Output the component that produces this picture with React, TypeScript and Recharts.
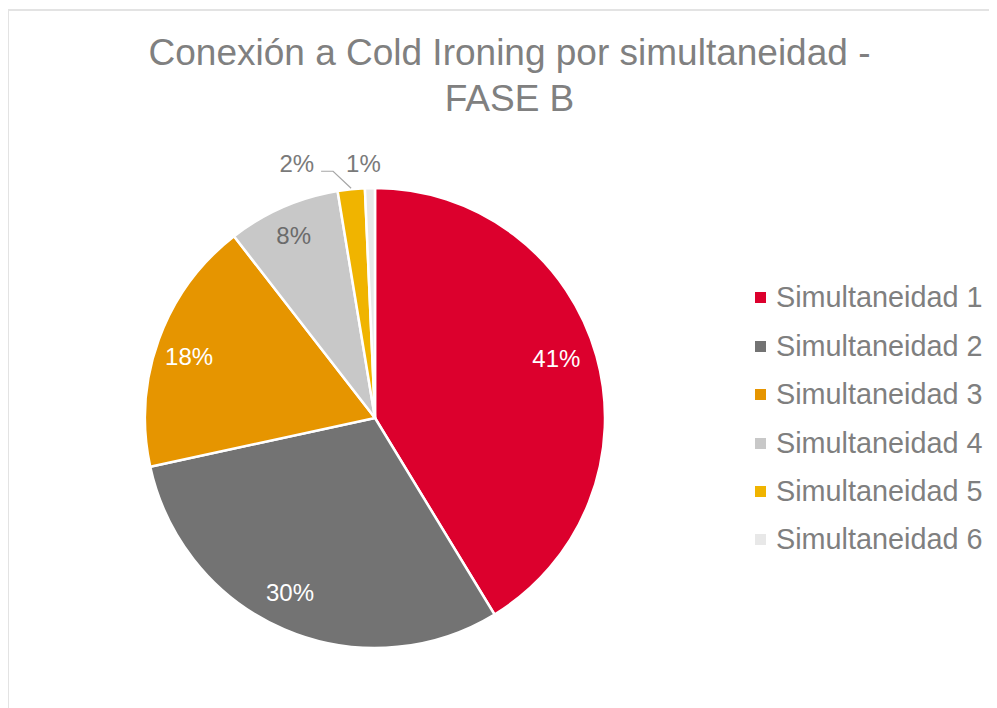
import React from 'react';
import { PieChart, Pie, Cell, Legend } from 'recharts';

// Data
const categories = [
  'Simultaneidad 1',
  'Simultaneidad 2',
  'Simultaneidad 3',
  'Simultaneidad 4',
  'Simultaneidad 5',
  'Simultaneidad 6',
];
const shares = [41.3, 30.3, 17.9, 7.9, 1.9, 0.7];
const COLORS = ['#DC002D', '#737373', '#E69500', '#C8C8C8', '#F0B400', '#E8E8E8'];

const titleLines = ['Conexión a Cold Ironing por simultaneidad -', 'FASE B'];

const data = categories.map((name, i) => ({ name, value: shares[i] }));

const FONT = '"Liberation Sans", Arial, sans-serif';
const RADIAN = Math.PI / 180;

// Excel's "best fit" puts the inner labels a little off the slice middle
const labelShift = [2.5, -2.8, 1.7, 0.4];
const labelRadius = [0.83, 0.842, 0.851, 0.87];

const renderLabel = (props: any) => {
  const { cx, cy, midAngle, outerRadius, percent, index } = props;
  const text = `${Math.round(percent * 100)}%`;

  if (index < 4) {
    const a = -(midAngle + labelShift[index]) * RADIAN;
    const r = outerRadius * labelRadius[index];
    return (
      <text
        x={cx + r * Math.cos(a)}
        y={cy + r * Math.sin(a)}
        fill={index === 3 ? '#6b6b6b' : '#ffffff'}
        textAnchor="middle"
        dominantBaseline="central"
        fontSize={24}
        fontFamily={FONT}
      >
        {text}
      </text>
    );
  }

  // small slices: labels outside the pie
  const cos = Math.cos(-midAngle * RADIAN);
  const sin = Math.sin(-midAngle * RADIAN);
  const ex = cx + (outerRadius + 1) * cos;
  const ey = cy + (outerRadius + 1) * sin;
  if (index === 4) {
    return (
      <g>
        <polyline
          points={`${ex},${ey} ${ex - 18},${ey - 17} ${ex - 30},${ey - 17}`}
          fill="none"
          stroke="#A6A6A6"
          strokeWidth={1.2}
        />
        <text
          x={ex - 37}
          y={ey - 25}
          fill="#7a7a7a"
          textAnchor="end"
          dominantBaseline="central"
          fontSize={24}
          fontFamily={FONT}
        >
          {text}
        </text>
      </g>
    );
  }
  const r = outerRadius + 25;
  return (
    <text
      x={cx + r * cos - 6}
      y={cy + r * sin}
      fill="#7a7a7a"
      textAnchor="middle"
      dominantBaseline="central"
      fontSize={24}
      fontFamily={FONT}
    >
      {text}
    </text>
  );
};

const renderLegend = () => (
  <div style={{ fontFamily: FONT }}>
    {categories.map((name, i) => (
      <div key={name} style={{ display: 'flex', alignItems: 'center', height: 48.4 }}>
        <span
          style={{
            display: 'inline-block',
            width: 11,
            height: 11,
            background: COLORS[i],
            marginRight: 10,
          }}
        />
        <span style={{ fontSize: 28.8, color: '#7f7f7f', whiteSpace: 'nowrap' }}>{name}</span>
      </div>
    ))}
  </div>
);

export default function App() {
  return (
    <div style={{ position: 'relative', width: 997, height: 716, margin: -8, overflow: 'hidden', background: '#fff' }}>
      {/* chart area border */}
      <div
        style={{
          position: 'absolute',
          left: 7,
          top: 9,
          width: 1100,
          height: 900,
          border: '2px solid #E3E3E3',
        }}
      />
      <div
        style={{
          position: 'absolute',
          left: 0,
          top: 29.8,
          width: 1019,
          textAlign: 'center',
          fontFamily: FONT,
          fontSize: 37,
          lineHeight: '46px',
          color: '#808080',
        }}
      >
        {titleLines.map((t) => (
          <div key={t}>{t}</div>
        ))}
      </div>
      <div style={{ position: 'absolute', left: 0, top: 0 }}>
        <PieChart width={997} height={708} margin={{ top: 0, right: 0, bottom: 0, left: 0 }}>
          <Pie
            data={data}
            dataKey="value"
            nameKey="name"
            cx={375}
            cy={418}
            outerRadius={230}
            startAngle={90}
            endAngle={-270}
            stroke="#ffffff"
            strokeWidth={2.5}
            label={renderLabel}
            labelLine={false}
            isAnimationActive={false}
          >
            {data.map((entry, index) => (
              <Cell key={`cell-${index}`} fill={COLORS[index]} />
            ))}
          </Pie>
          <Legend
            layout="vertical"
            verticalAlign="top"
            align="right"
            wrapperStyle={{ left: 755, top: 273.8, right: 'auto', width: 240 }}
            content={renderLegend}
          />
        </PieChart>
      </div>
    </div>
  );
}
